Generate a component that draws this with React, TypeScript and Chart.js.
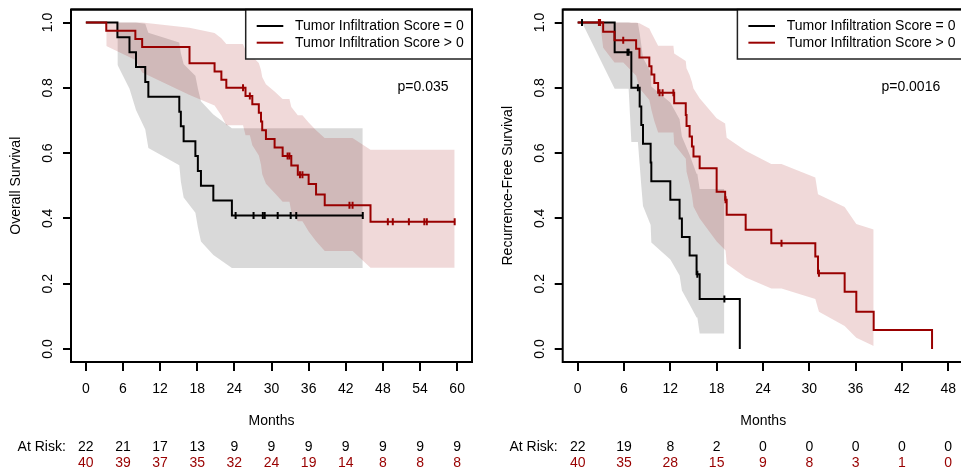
import React, { useEffect, useRef } from "react";
import { Chart, registerables } from "chart.js";
Chart.register(...registerables);

const FONT = "'Liberation Sans', Arial, Helvetica, sans-serif";
const RED = "#990000";
const BLACK = "#000000";
const RED_BAND = "rgba(153,0,0,0.15)";
const BLACK_BAND = "rgba(0,0,0,0.15)";

const yTicks = [0, 0.2, 0.4, 0.6, 0.8, 1.0];
const legendLabels = ["Tumor Infiltration Score = 0", "Tumor Infiltration Score > 0"];

// ---------- Left panel: Overall Survival ----------
const osXTicks = [0, 6, 12, 18, 24, 30, 36, 42, 48, 54, 60];
const osAtRiskBlack = [22, 21, 17, 13, 9, 9, 9, 9, 9, 9, 9];
const osAtRiskRed = [40, 39, 37, 35, 32, 24, 19, 14, 8, 8, 8];

const osBlackTimes = [0, 5.1, 7.05, 8.1, 9.6, 10.1, 15.1, 15.35, 15.8, 17.7, 18.1, 18.6, 20.6, 23.6];
const osBlackSurv = [1, 0.955, 0.909, 0.864, 0.818, 0.773, 0.727, 0.682, 0.636, 0.591, 0.545, 0.5, 0.455, 0.409];
const osBlackLower = [1, 0.871, 0.797, 0.732, 0.672, 0.616, 0.563, 0.513, 0.464, 0.417, 0.373, 0.329, 0.288, 0.248];
const osBlackUpper = [1, 1, 1, 1, 0.996, 0.969, 0.939, 0.907, 0.873, 0.837, 0.799, 0.759, 0.718, 0.676];
const osBlackCensor = [24.2, 27.1, 28.6, 28.9, 31.0, 33.1, 34.0, 44.75];

const osRedTimes = [0, 3.3, 8.0, 9.1, 16.75, 20.8, 21.9, 22.7, 25.8, 26.9, 27.95, 28.3, 28.5, 29.1, 30.5, 31.8, 33.2, 34.25, 36.0, 37.2, 38.6, 46.0];
const osRedSurv = [1, 0.975, 0.95, 0.925, 0.875, 0.85, 0.825, 0.8, 0.775, 0.75, 0.724, 0.697, 0.67, 0.643, 0.617, 0.591, 0.562, 0.534, 0.505, 0.473, 0.44, 0.39];
const osRedLower = [1, 0.928, 0.885, 0.847, 0.778, 0.746, 0.715, 0.685, 0.655, 0.624, 0.593, 0.564, 0.535, 0.506, 0.478, 0.451, 0.42, 0.391, 0.36, 0.33, 0.3, 0.249];
const osRedUpper = [1, 1, 1, 1, 0.984, 0.968, 0.952, 0.934, 0.916, 0.896, 0.876, 0.855, 0.833, 0.811, 0.789, 0.766, 0.741, 0.716, 0.694, 0.67, 0.646, 0.61];
const osRedCensor = [25.4, 26.5, 32.6, 32.9, 34.6, 35.0, 42.6, 43.1, 48.8, 49.6, 52.2, 54.7, 55.1, 59.6];

// ---------- Right panel: Recurrence-Free Survival ----------
const rfsXTicks = [0, 6, 12, 18, 24, 30, 36, 42, 48];
const rfsAtRiskBlack = [22, 19, 8, 2, 0, 0, 0, 0, 0];
const rfsAtRiskRed = [40, 35, 28, 15, 9, 8, 3, 1, 0];

const rfsBlackTimes = [0, 4.79, 6.95, 8.03, 8.24, 8.46, 9.45, 9.54, 12.0, 13.2, 13.5, 14.5, 15.4, 15.8, 21.0];
const rfsBlackSurv = [1, 0.909, 0.8, 0.743, 0.686, 0.629, 0.571, 0.514, 0.457, 0.4, 0.343, 0.286, 0.229, 0.153, 0];
const rfsBlackLower = [1, 0.797, 0.634, 0.564, 0.499, 0.438, 0.38, 0.326, 0.274, 0.225, 0.179, 0.136, 0.096, 0.047, null];
const rfsBlackUpper = [1, 1, 0.999, 0.968, 0.932, 0.892, 0.849, 0.804, 0.755, 0.704, 0.651, 0.595, 0.537, 0.49, null];
const rfsBlackCensor = [0.56, 6.45, 6.6, 7.8, 15.5, 19.0];

const rfsRedTimes = [0, 3.3, 4.77, 7.57, 8.0, 9.28, 9.56, 9.93, 10.42, 12.5, 14.0, 14.1, 14.5, 14.8, 15.0, 15.8, 18.0, 19.1, 19.3, 21.76, 25.08, 30.78, 31.13, 34.58, 36.09, 38.34, 45.9];
const rfsRedSurv = [1, 0.972, 0.946, 0.92, 0.893, 0.866, 0.841, 0.815, 0.785, 0.753, 0.717, 0.683, 0.651, 0.62, 0.59, 0.554, 0.482, 0.457, 0.411, 0.365, 0.324, 0.283, 0.232, 0.175, 0.114, 0.058, 0];
const rfsRedLower = [1, 0.923, 0.878, 0.837, 0.799, 0.763, 0.731, 0.698, 0.663, 0.627, 0.583, 0.543, 0.505, 0.47, 0.436, 0.4, 0.329, 0.302, 0.261, 0.219, 0.185, 0.153, 0.114, 0.07, 0.034, 0.009, null];
const rfsRedUpper = [1, 1, 1, 1, 0.998, 0.982, 0.968, 0.951, 0.929, 0.905, 0.882, 0.86, 0.839, 0.818, 0.798, 0.768, 0.707, 0.691, 0.647, 0.607, 0.567, 0.525, 0.474, 0.435, 0.383, 0.366, null];
const rfsRedCensor = [2.75, 2.9, 5.9, 10.6, 11.0, 12.4, 19.15, 26.4, 31.25];

// ---------- helpers ----------
function valueAt(times, vals, t) {
  let v = vals[0];
  for (let i = 0; i < times.length; i++) if (times[i] <= t) v = vals[i];
  return v;
}
function curvePoints(times, surv, censors) {
  const pts = times.map((t, i) => ({ x: t, y: surv[i] }));
  const lastC = Math.max(...censors);
  if (lastC > times[times.length - 1]) pts.push({ x: lastC, y: surv[surv.length - 1] });
  return pts;
}
function censorPoints(times, surv, censors) {
  return censors.map((c) => ({ x: c, y: valueAt(times, surv, c) }));
}
function bandPoints(times, band, censors) {
  const rows = [];
  for (let i = 1; i < times.length; i++) if (band[i] != null) rows.push({ x: times[i], y: band[i] });
  censors.forEach((c) => rows.push({ x: c, y: valueAt(times, band, c) }));
  rows.sort((a, b) => a.x - b.x);
  return rows;
}

const Y_AXIS_W = 30;
const X_AXIS_H = 40;
const CANVAS_H = 475;

function Panel(props) {
  const ref = useRef(null);
  useEffect(() => {
    const p = props;
    const decor = {
      id: "decor",
      afterDraw(chart) {
        const { ctx, chartArea: ca, scales } = chart;
        const xs = scales.x;
        const ys = scales.y;
        ctx.save();
        // box
        ctx.strokeStyle = "#000";
        ctx.lineWidth = 2;
        ctx.strokeRect(ca.left, ca.top, ca.right - ca.left, ca.bottom - ca.top);
        ctx.font = `14px ${FONT}`;
        ctx.fillStyle = "#000";
        // y tick labels (rotated)
        yTicks.forEach((v) => {
          ctx.save();
          ctx.translate(ca.left - 22.5, ys.getPixelForValue(v));
          ctx.rotate(-Math.PI / 2);
          ctx.textAlign = "center";
          ctx.textBaseline = "middle";
          ctx.fillText(v.toFixed(1), 0, 0);
          ctx.restore();
        });
        // y title
        ctx.save();
        ctx.translate(ca.left - 54.5, (ca.top + ca.bottom) / 2);
        ctx.rotate(-Math.PI / 2);
        ctx.textAlign = "center";
        ctx.textBaseline = "middle";
        ctx.fillText(p.yTitle, 0, 0);
        ctx.restore();
        // x title
        ctx.textAlign = "center";
        ctx.textBaseline = "middle";
        ctx.fillText("Months", (ca.left + ca.right) / 2, 421.5);
        // at risk table
        ctx.textAlign = "right";
        ctx.fillText("At Risk:", xs.getPixelForValue(0) - 20, 447.3);
        ctx.textAlign = "center";
        p.xTicks.forEach((t, i) => {
          const x = xs.getPixelForValue(t);
          ctx.fillStyle = BLACK;
          ctx.fillText(String(p.atRiskBlack[i]), x, 447.3);
          ctx.fillStyle = RED;
          ctx.fillText(String(p.atRiskRed[i]), x, 463.3);
        });
        // p-value
        ctx.fillStyle = "#000";
        ctx.textAlign = "right";
        ctx.fillText(p.pText, ca.right - 23.5, 87.5);
        // legend
        const bw = 226.3;
        const bx = ca.right - bw;
        const by = ca.top;
        const bh = 59 - ca.top;
        ctx.fillStyle = "#fff";
        ctx.fillRect(bx, by, bw, bh);
        ctx.strokeStyle = "#222";
        ctx.lineWidth = 1.5;
        ctx.strokeRect(bx, by, bw, bh);
        const rows = [
          { c: BLACK, y: 26 },
          { c: RED, y: 42.7 },
        ];
        rows.forEach((r, i) => {
          ctx.strokeStyle = r.c;
          ctx.lineWidth = 2;
          ctx.beginPath();
          ctx.moveTo(bx + 11, r.y);
          ctx.lineTo(bx + 37.6, r.y);
          ctx.stroke();
          ctx.fillStyle = "#000";
          ctx.textAlign = "left";
          ctx.textBaseline = "middle";
          ctx.fillText(legendLabels[i], bx + 49.3, r.y);
        });
        // redraw top box line over legend
        ctx.strokeStyle = "#000";
        ctx.lineWidth = 2;
        ctx.beginPath();
        ctx.moveTo(ca.left, ca.top);
        ctx.lineTo(ca.right, ca.top);
        ctx.lineTo(ca.right, ca.bottom);
        ctx.stroke();
        ctx.restore();
      },
    };

    const censorDs = (pts, color) => ({
      data: pts,
      showLine: false,
      pointStyle: "line",
      pointRotation: 90,
      pointRadius: 3.5,
      pointBorderWidth: 2,
      pointBorderColor: color,
      pointBackgroundColor: color,
      borderColor: color,
    });
    const curveDs = (pts, color) => ({
      data: pts,
      stepped: true,
      borderColor: color,
      borderWidth: 2,
      pointRadius: 0,
      fill: false,
    });
    const bandDs = (pts, color, fill) => ({
      data: pts,
      borderColor: "rgba(0,0,0,0)",
      borderWidth: 0,
      pointRadius: 0,
      backgroundColor: color,
      fill: fill,
      tension: 0,
    });

    const chart = new Chart(ref.current, {
      type: "line",
      data: {
        datasets: [
          censorDs(censorPoints(p.red.times, p.red.surv, p.red.censor), RED),
          censorDs(censorPoints(p.black.times, p.black.surv, p.black.censor), BLACK),
          curveDs(curvePoints(p.red.times, p.red.surv, p.red.censor), RED),
          curveDs(curvePoints(p.black.times, p.black.surv, p.black.censor), BLACK),
          bandDs(bandPoints(p.red.times, p.red.upper, p.red.censor), RED_BAND, "+1"),
          bandDs(bandPoints(p.red.times, p.red.lower, p.red.censor), RED_BAND, false),
          bandDs(bandPoints(p.black.times, p.black.upper, p.black.censor), BLACK_BAND, "+1"),
          bandDs(bandPoints(p.black.times, p.black.lower, p.black.censor), BLACK_BAND, false),
        ],
      },
      options: {
        responsive: false,
        animation: false,
        devicePixelRatio: 1,
        events: [],
        layout: {
          padding: {
            left: p.chartLeft - Y_AXIS_W,
            right: p.width - p.chartRight,
            top: 9.5,
            bottom: CANVAS_H - 362 - X_AXIS_H,
          },
        },
        scales: {
          x: {
            type: "linear",
            min: p.xMin,
            max: p.xMax,
            afterBuildTicks: (s) => {
              s.ticks = p.xTicks.map((v) => ({ value: v }));
            },
            afterFit: (s) => {
              s.height = X_AXIS_H;
              s.paddingLeft = 0;
              s.paddingRight = 0;
            },
            grid: { display: true, drawOnChartArea: false, drawTicks: true, tickLength: 9, color: "#000", lineWidth: 2 },
            border: { display: false },
            ticks: {
              color: "#000",
              padding: 10,
              autoSkip: false,
              maxRotation: 0,
              font: { family: FONT, size: 14 },
              callback: (v) => String(v),
            },
          },
          y: {
            type: "linear",
            min: -0.04,
            max: 1.04,
            afterBuildTicks: (s) => {
              s.ticks = yTicks.map((v) => ({ value: v }));
            },
            afterFit: (s) => {
              s.width = Y_AXIS_W;
              s.paddingTop = 0;
              s.paddingBottom = 0;
            },
            grid: { display: true, drawOnChartArea: false, drawTicks: true, tickLength: 8, color: "#000", lineWidth: 2 },
            border: { display: false },
            ticks: { display: false },
          },
        },
        plugins: {
          legend: { display: false },
          tooltip: { enabled: false },
        },
      },
      plugins: [decor],
    });
    return () => chart.destroy();
  }, []);
  return (
    <canvas
      ref={ref}
      width={props.width}
      height={CANVAS_H}
      style={{ position: "absolute", left: props.left, top: 0, width: props.width, height: CANVAS_H }}
    />
  );
}

export default function App() {
  return (
    <div style={{ position: "absolute", left: 0, top: 0, width: 961, height: 475, overflow: "hidden", background: "#fff" }}>
      <Panel
        left={0}
        width={480}
        chartLeft={71}
        chartRight={472}
        xMin={-2.4}
        xMax={62.4}
        xTicks={osXTicks}
        atRiskBlack={osAtRiskBlack}
        atRiskRed={osAtRiskRed}
        yTitle="Overall Survival"
        pText="p=0.035"
        black={{ times: osBlackTimes, surv: osBlackSurv, lower: osBlackLower, upper: osBlackUpper, censor: osBlackCensor }}
        red={{ times: osRedTimes, surv: osRedSurv, lower: osRedLower, upper: osRedUpper, censor: osRedCensor }}
      />
      <Panel
        left={480}
        width={490}
        chartLeft={82.7}
        chartRight={483.7}
        xMin={-1.94}
        xMax={50.0}
        xTicks={rfsXTicks}
        atRiskBlack={rfsAtRiskBlack}
        atRiskRed={rfsAtRiskRed}
        yTitle="Recurrence-Free Survival"
        pText="p=0.0016"
        black={{ times: rfsBlackTimes, surv: rfsBlackSurv, lower: rfsBlackLower, upper: rfsBlackUpper, censor: rfsBlackCensor }}
        red={{ times: rfsRedTimes, surv: rfsRedSurv, lower: rfsRedLower, upper: rfsRedUpper, censor: rfsRedCensor }}
      />
    </div>
  );
}
